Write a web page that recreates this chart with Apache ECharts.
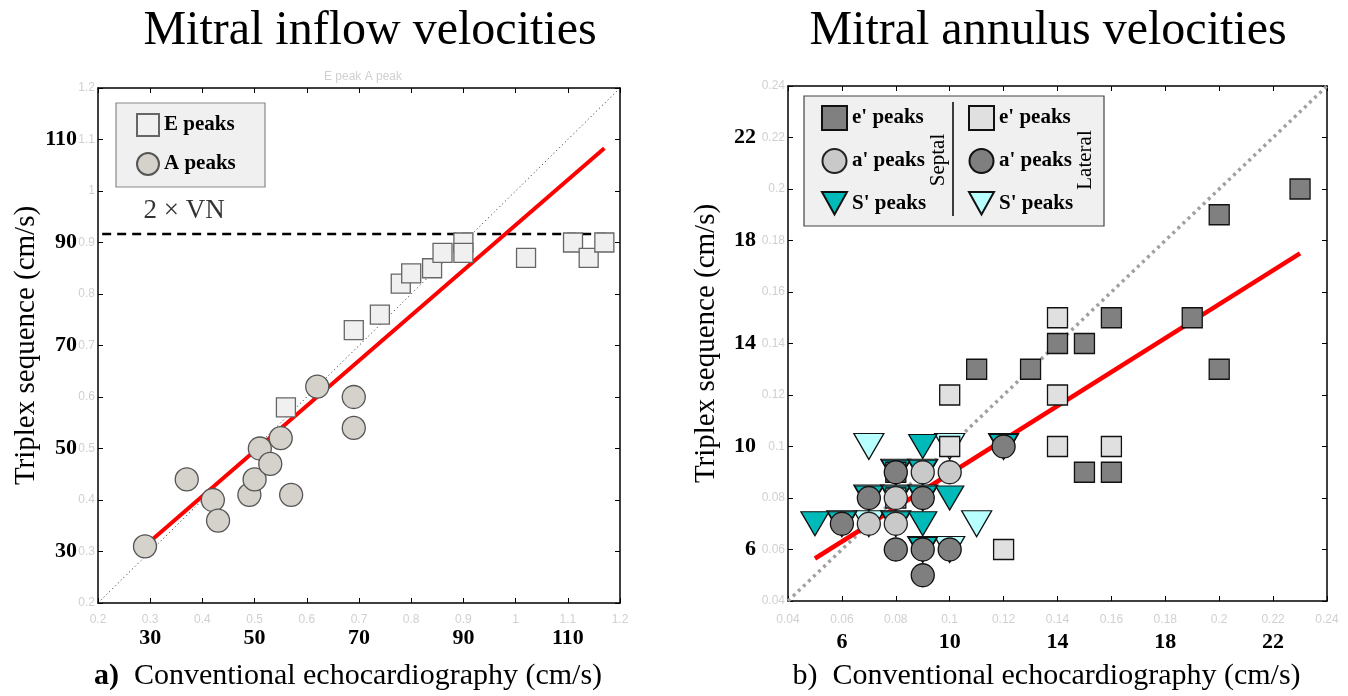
<!DOCTYPE html>
<html><head><meta charset="utf-8">
<script src="https://cdn.jsdelivr.net/npm/echarts@6/dist/echarts.min.js"></script>
<style>html,body{margin:0;padding:0;background:#fff}#c{width:1348px;height:696px}</style>
</head><body><div id="c"></div>
<script>
// ---- data (left: mitral inflow, values in m/s) ----
const ePeaks = [[0.56,0.58],[0.69,0.73],[0.74,0.76],[0.78,0.82],[0.80,0.84],[0.84,0.85],[0.86,0.88],[0.90,0.90],[0.90,0.88],[1.02,0.87],[1.11,0.90],[1.14,0.87],[1.17,0.90]];
const aPeaks = [[0.29,0.31],[0.37,0.44],[0.42,0.40],[0.43,0.36],[0.49,0.41],[0.50,0.44],[0.51,0.50],[0.53,0.47],[0.55,0.52],[0.57,0.41],[0.62,0.62],[0.69,0.60],[0.69,0.54]];
const leftFit = [[0.298,0.318],[1.17,1.083]];
const leftIdentity = [[0.2,0.2],[1.2,1.2]];
const vnLine = [[0.208,0.9167],[1.185,0.9167]];
const vnLabel = [[0.365,0.962]];
const leftTickVals = [0.3,0.5,0.7,0.9,1.1];
const leftTickLabels = ['30','50','70','90','110'];
// ---- data (right: mitral annulus, values in m/s) ----
const septalE = [[0.23,0.20],[0.20,0.19],[0.19,0.15],[0.20,0.13],[0.16,0.15],[0.14,0.14],[0.15,0.14],[0.11,0.13],[0.13,0.13],[0.15,0.09],[0.16,0.09],[0.08,0.09]];
const lateralE = [[0.14,0.15],[0.14,0.12],[0.10,0.12],[0.14,0.10],[0.16,0.10],[0.10,0.10],[0.12,0.06],[0.08,0.08]];
const septalA = [[0.10,0.09],[0.09,0.09],[0.08,0.08],[0.07,0.07],[0.08,0.07]];
const lateralA = [[0.12,0.10],[0.08,0.09],[0.07,0.08],[0.09,0.08],[0.06,0.07],[0.08,0.06],[0.09,0.06],[0.10,0.06],[0.09,0.05]];
const septalS = [[0.05,0.07],[0.09,0.10],[0.10,0.08],[0.09,0.07],[0.06,0.07],[0.08,0.09],[0.09,0.09],[0.07,0.08],[0.08,0.08],[0.09,0.08],[0.08,0.07],[0.09,0.06],[0.12,0.10]];
const lateralS = [[0.07,0.10],[0.11,0.07],[0.10,0.10],[0.12,0.10],[0.10,0.06],[0.07,0.07],[0.08,0.09],[0.09,0.09],[0.07,0.08],[0.08,0.08],[0.09,0.08],[0.06,0.07],[0.08,0.07],[0.09,0.06]];
const rightFit = [[0.05,0.0565],[0.23,0.175]];
const rightIdentity = [[0.04,0.04],[0.24,0.24]];
const rightTickVals = [0.06,0.10,0.14,0.18,0.22];
const rightTickLabels = ['6','10','14','18','22'];

const SERIF = '"Liberation Serif","DejaVu Serif",serif';
const SANS = '"Liberation Sans",Arial,sans-serif';
const ghost = {color:'#d0d0d0', fontSize:12, fontFamily:SANS};
const fmtNum = v => String(+v.toFixed(2));
const mapLabel = (vals, labs) => v => { for (let i=0;i<vals.length;i++) if (Math.abs(v-vals[i])<1e-6) return labs[i]; return ''; };
const boldLab = {color:'#000', fontSize:22, fontWeight:'bold', fontFamily:SERIF};
const axLine = {show:true, lineStyle:{color:'#000', width:1.5}};
const DOWN_TRI = 'path://M0,0 L20,0 L10,18 Z';

function axesFor(grid, min, max, step, tv, tl, isX, nameTxt){
  const base = {gridIndex:grid, type:'value', min:min, max:max, interval:step, splitLine:{show:false}};
  const ghostAx = Object.assign({}, base, {
    position: isX?'bottom':'left', axisLine:axLine,
    axisTick:{inside:true, length:5, lineStyle:{color:'#000'}},
    axisLabel:Object.assign({margin: isX?(grid===0?11:13):3, formatter:fmtNum}, ghost)
  });
  const boldAx = Object.assign({}, base, {
    position: isX?'bottom':'left', axisLine:{show:false}, axisTick:{show:false},
    axisLabel:Object.assign({margin: isX?(grid===0?24:30):(grid===0?21:32), formatter:mapLabel(tv,tl)}, boldLab),
    name:nameTxt, nameLocation:'middle'
  });
  const oppAx = Object.assign({}, base, {
    position: isX?'top':'right', axisLine:axLine,
    axisTick:{inside:true, length:5, lineStyle:{color:'#000'}}, axisLabel:{show:false}
  });
  return [ghostAx, boldAx, oppAx];
}

const xL = axesFor(0,0.2,1.2,0.1,leftTickVals,leftTickLabels,true,'{b|a)}  Conventional echocardiography (cm/s)');
const yL = axesFor(0,0.2,1.2,0.1,leftTickVals,leftTickLabels,false,'Triplex sequence (cm/s)');
const xR = axesFor(1,0.04,0.24,0.02,rightTickVals,rightTickLabels,true,'b)  Conventional echocardiography (cm/s)');
const yR = axesFor(1,0.04,0.24,0.02,rightTickVals,rightTickLabels,false,'Triplex sequence (cm/s)');
const xNameStyle = {fontSize:30, fontFamily:SERIF, color:'#000', padding:[0,22,0,0], rich:{b:{fontSize:30, fontWeight:'bold', fontFamily:SERIF}}};
xL[1].nameGap = 58; xL[1].nameTextStyle = xNameStyle;
xR[1].nameGap = 60; xR[1].nameTextStyle = xNameStyle;
const yNameStyle = {fontSize:29, fontFamily:SERIF, color:'#000'};
yL[1].nameGap = 53; yL[1].nameTextStyle = yNameStyle;
yR[1].nameGap = 67; yR[1].nameTextStyle = yNameStyle;

const chart = echarts.init(document.getElementById('c'), null, {renderer:'canvas'});
const lineS = (name, data, xi, yi, ls) => ({name, type:'line', data, xAxisIndex:xi, yAxisIndex:yi, symbol:'none', lineStyle:ls, silent:true, z:2});
const scat = (name, data, xi, yi, symbol, size, fill, border, extra) => Object.assign({
  name, type:'scatter', data, xAxisIndex:xi, yAxisIndex:yi, symbol, symbolSize:size,
  itemStyle:{color:fill, borderColor:border, borderWidth:1.3, opacity:1}, z:3
}, extra||{});
const legText = {fontSize:21, fontWeight:'bold', fontFamily:SERIF, color:'#000', lineHeight:24};

chart.setOption({
  animation:false,
  title:[
    {text:'Mitral inflow velocities', left:365, top:2, textAlign:'center', textStyle:{fontSize:48, fontWeight:'normal', fontFamily:SERIF, color:'#000'}},
    {text:'Mitral annulus velocities', left:1043, top:2, textAlign:'center', textStyle:{fontSize:48, fontWeight:'normal', fontFamily:SERIF, color:'#000'}},
    {text:'E peak A peak', left:358, top:66, textAlign:'center', textStyle:{fontSize:12, fontWeight:'normal', fontFamily:SANS, color:'#d0d0d0'}}
  ],
  grid:[
    {left:98, top:88, width:522, height:522},
    {left:788, top:86, width:539, height:518}
  ],
  xAxis:[...xL, ...xR],
  yAxis:[...yL, ...yR],
  legend:[
    {data:['E peaks','A peaks'], left:131, top:108, orient:'vertical', itemGap:15, itemWidth:22, itemHeight:22, z:10,
     textStyle:legText},
    {data:["Septal e' peaks","Septal a' peaks",{name:"Septal S' peaks", icon:DOWN_TRI}], left:816, top:100, orient:'vertical', itemGap:17, itemWidth:25, itemHeight:24, z:10,
     formatter:n=>n.replace(/^Septal /,''), textStyle:legText},
    {data:["Lateral e' peaks","Lateral a' peaks",{name:"Lateral S' peaks", icon:DOWN_TRI}], left:963, top:100, orient:'vertical', itemGap:17, itemWidth:25, itemHeight:24, z:10,
     formatter:n=>n.replace(/^Lateral /,''), textStyle:legText}
  ],
  graphic:[
    {type:'rect', shape:{x:116, y:103, width:149, height:84}, style:{fill:'#f0f0f0', stroke:'#888', lineWidth:1.2}, z:5},
    {type:'rect', shape:{x:804, y:96, width:300, height:130}, style:{fill:'#f0f0f0', stroke:'#444', lineWidth:1.2}, z:5},
    {type:'line', shape:{x1:953, y1:102, x2:953, y2:216}, style:{stroke:'#000', lineWidth:1.5}, z:6},
    {type:'text', x:938, y:160, rotation:Math.PI/2, style:{text:'Septal', font:'21px '+SERIF, fill:'#000', textAlign:'center', textVerticalAlign:'middle'}, z:6},
    {type:'text', x:1085, y:160, rotation:Math.PI/2, style:{text:'Lateral', font:'21px '+SERIF, fill:'#000', textAlign:'center', textVerticalAlign:'middle'}, z:6}
  ],
  series:[
    lineS('identityL', leftIdentity, 0, 0, {color:'#222', width:1, type:[1,3]}),
    lineS('vn', vnLine, 0, 0, {color:'#000', width:2.5, type:[9,6]}),
    lineS('fitL', leftFit, 0, 0, {color:'#ff0000', width:4}),
    {type:'scatter', data:vnLabel, xAxisIndex:0, yAxisIndex:0, symbolSize:0, silent:true,
     label:{show:true, position:'inside', formatter:'2 × VN', fontSize:27, fontFamily:SERIF, color:'#000'}},
    scat('E peaks', ePeaks, 0, 0, 'rect', 19, '#f0f0f0', '#666'),
    scat('A peaks', aPeaks, 0, 0, 'circle', 23, '#d5d2cb', '#555'),

    lineS('identityR', rightIdentity, 3, 3, {color:'#a0a0a0', width:3.5, type:[3,4]}),
    lineS('fitR', rightFit, 3, 3, {color:'#ff0000', width:4.5}),
    scat("Lateral S' peaks", lateralS, 3, 3, 'triangle', [30,26], '#b8ffff', '#111', {symbolRotate:180}),
    scat("Septal S' peaks", septalS, 3, 3, 'triangle', [28,24], '#00baba', '#111', {symbolRotate:180}),
    scat("Septal e' peaks", septalE, 3, 3, 'rect', 20, '#808080', '#111'),
    scat("Lateral e' peaks", lateralE, 3, 3, 'rect', 20, '#e0e0e0', '#111'),
    scat("Septal a' peaks", septalA, 3, 3, 'circle', 23, '#c9c9c9', '#222'),
    scat("Lateral a' peaks", lateralA, 3, 3, 'circle', 23, '#7f7f7f', '#111')
  ]
});
</script></body></html>
